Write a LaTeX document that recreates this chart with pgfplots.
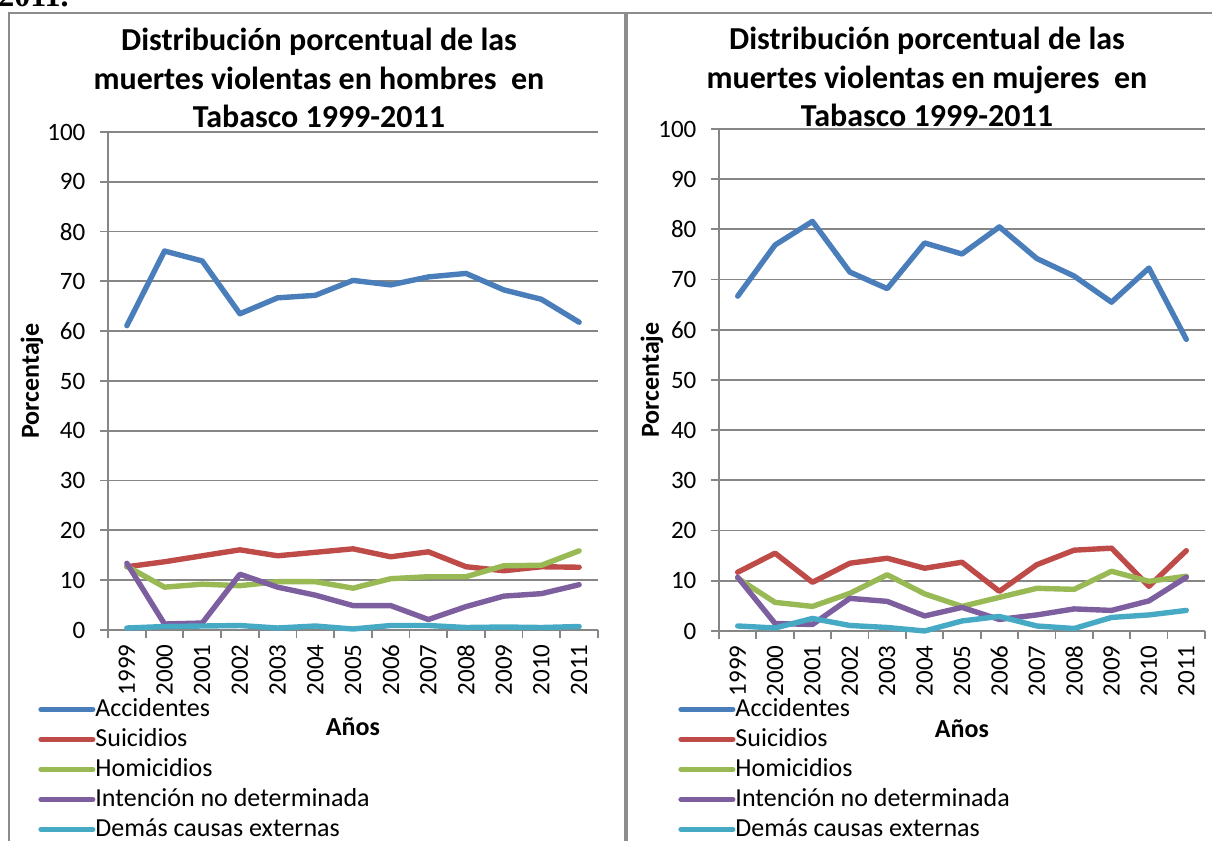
\documentclass[border=0pt]{standalone}
\usepackage{fontspec}
\setmainfont{Carlito}
\newfontfamily\serifbold{Liberation Serif}
\usepackage{pgfplots}
\usepackage{pgfplotstable}
\pgfplotsset{compat=1.18}

\definecolor{sAcc}{HTML}{4A7EBB}
\definecolor{sSui}{HTML}{BE4B48}
\definecolor{sHom}{HTML}{98B954}
\definecolor{sInd}{HTML}{7D5FA0}
\definecolor{sDem}{HTML}{46AAC5}
\definecolor{gridgray}{HTML}{868686}
\definecolor{framegray}{HTML}{8C8C8C}

% muertes violentas, % por causa
\pgfplotstableread{
year acc sui hom ind dem
1999 61.1 12.7 12.8 13.4 0.4
2000 76.1 13.7 8.6 1.2 0.7
2001 74.1 14.9 9.2 1.4 0.8
2002 63.5 16.1 8.9 11.2 0.9
2003 66.7 14.9 9.7 8.6 0.4
2004 67.2 15.6 9.7 7.0 0.8
2005 70.2 16.3 8.4 4.9 0.2
2006 69.3 14.7 10.3 4.9 0.9
2007 70.9 15.7 10.7 2.1 0.9
2008 71.6 12.7 10.7 4.7 0.5
2009 68.3 11.9 12.9 6.8 0.6
2010 66.4 12.7 13.0 7.3 0.5
2011 61.8 12.6 15.9 9.1 0.7
}\hombres

\pgfplotstableread{
year acc sui hom ind dem
1999 66.7 11.7 10.5 10.7 1.0
2000 76.9 15.5 5.7 1.5 0.6
2001 81.6 9.7 4.9 1.3 2.5
2002 71.5 13.5 7.5 6.5 1.1
2003 68.2 14.5 11.2 5.9 0.7
2004 77.3 12.5 7.4 3.0 0.0
2005 75.1 13.7 4.9 4.7 2.0
2006 80.5 7.9 6.7 2.3 2.9
2007 74.2 13.2 8.5 3.2 1.0
2008 70.7 16.1 8.3 4.4 0.5
2009 65.5 16.5 11.9 4.1 2.7
2010 72.3 8.9 9.9 6.0 3.2
2011 58.1 16.0 10.9 10.7 4.1
}\mujeres

\pgfplotsset{
  panel/.style={
    scale only axis,
    anchor=south west,
    xmin=1998.5, xmax=2011.5, ymin=0, ymax=100,
    clip=false,
    axis x line=bottom, axis y line=left,
    axis line style={-, draw=gridgray, line width=0.9pt},
    ymajorgrids,
    major grid style={draw=gridgray, line width=0.9pt},
    ytick={0,10,...,100},
    xtick={1998.5,1999.5,...,2011.5},
    x tick label as interval,
    xticklabels={1999,2000,2001,2002,2003,2004,2005,2006,2007,2008,2009,2010,2011},
    tick align=outside,
    major tick length=3.8pt,
    tick style={draw=gridgray, line width=0.9pt},
    /pgf/number format/assume math mode=true,
    tick label style={font=\fontsize{12.5}{14}\selectfont},
    xticklabel style={rotate=90, anchor=east},
    yticklabel style={xshift=-4pt},
    label style={font=\bfseries\fontsize{13}{15}\selectfont},
    xlabel={Años},
    ylabel={Porcentaje},
    legend cell align=left,
    legend image code/.code={\draw[#1, line width=2.7pt, line cap=round] (1.35pt,0pt) -- (27.2pt,0pt);},
    legend style={draw=none, fill=none, inner sep=0pt, row sep=3pt,
      font=\fontsize{13}{15}\selectfont,
      nodes={inner sep=0pt, text height=9.5pt, text depth=2.5pt},
      /tikz/every even column/.append style={column sep=1pt},
      anchor=north west},
    every axis plot/.append style={line width=2.7pt, line cap=round, line join=round, no marks},
  }
}

\begin{document}
\begin{tikzpicture}
\clip (0,0) rectangle (606pt,420.5pt);
\draw[framegray, line width=1pt] (4.5pt,-5pt) -- (4.5pt,414pt) -- (620pt,414pt);
\draw[framegray, line width=1.8pt] (313pt,-5pt) -- (313pt,414pt);
\node[anchor=base west, inner sep=0pt, font=\serifbold\bfseries\fontsize{16}{18}\selectfont] at (-1pt,417pt) {2011.};

\node[align=center, font=\bfseries\fontsize{16}{19.25}\selectfont] at (159.5pt,381.5pt)
  {Distribución porcentual de las\\muertes violentas en hombres\ \ en\\Tabasco 1999-2011};
\node[align=center, font=\bfseries\fontsize{16}{19.25}\selectfont] at (463.5pt,382pt)
  {Distribución porcentual de las\\muertes violentas en mujeres\ \ en\\Tabasco 1999-2011};

\begin{axis}[panel, at={(54pt,105.5pt)}, width=245pt, height=249pt,
  xlabel style={at={(axis description cs:0.5,-0.195)}, anchor=center},
  ylabel style={at={(axis description cs:-0.155,0.5)}, anchor=center},
  legend style={at={(axis description cs:-0.143,-0.1345)}}]
  \addplot[sAcc] table[x=year, y=acc] {\hombres};
  \addplot[sSui] table[x=year, y=sui] {\hombres};
  \addplot[sHom] table[x=year, y=hom] {\hombres};
  \addplot[sInd] table[x=year, y=ind] {\hombres};
  \addplot[sDem] table[x=year, y=dem] {\hombres};
  \legend{Accidentes, Suicidios, Homicidios, Intención no determinada, Demás causas externas}
\end{axis}

\begin{axis}[panel, at={(359.5pt,105pt)}, width=243pt, height=251pt,
  xlabel style={at={(axis description cs:0.5,-0.195)}, anchor=center},
  ylabel style={at={(axis description cs:-0.138,0.5)}, anchor=center},
  legend style={at={(axis description cs:-0.0844,-0.1315)}}]
  \addplot[sAcc] table[x=year, y=acc] {\mujeres};
  \addplot[sSui] table[x=year, y=sui] {\mujeres};
  \addplot[sHom] table[x=year, y=hom] {\mujeres};
  \addplot[sInd] table[x=year, y=ind] {\mujeres};
  \addplot[sDem] table[x=year, y=dem] {\mujeres};
  \legend{Accidentes, Suicidios, Homicidios, Intención no determinada, Demás causas externas}
\end{axis}
\end{tikzpicture}
\end{document}
